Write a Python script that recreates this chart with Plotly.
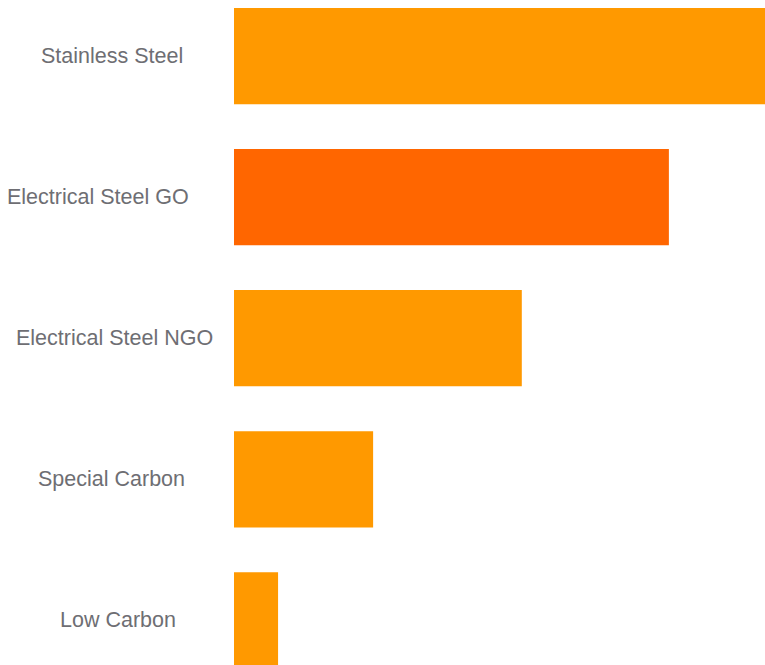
import plotly.graph_objects as go

# Steel product categories and their relative volumes
categories = ["Stainless Steel", "Electrical Steel GO", "Electrical Steel NGO",
              "Special Carbon", "Low Carbon"]
values = [100, 81.9, 54.2, 26.2, 8.3]
highlight = "Electrical Steel GO"

base_color = "#FF9900"
highlight_color = "#FF6600"
colors = [highlight_color if c == highlight else base_color for c in categories]

# figure geometry (pixels)
FIG_W, FIG_H = 765, 665
PLOT_LEFT = 234
PLOT_W = FIG_W - PLOT_LEFT

# horizontal centre of each label (pixels from the left edge of the figure)
label_centers = [112, 98, 114, 111, 118]

fig = go.Figure(
    go.Bar(
        x=values,
        y=categories,
        orientation="h",
        marker=dict(color=colors, line=dict(width=0)),
        hoverinfo="x+y",
    )
)

annotations = []
for cat, cx in zip(categories, label_centers):
    annotations.append(dict(
        x=(cx - PLOT_LEFT) / PLOT_W, xref="paper", y=cat, yref="y",
        text=cat, showarrow=False, xanchor="center", yanchor="middle",
        font=dict(family="Liberation Sans, Arial, sans-serif", size=21.5, color="#6E6E73"),
    ))

fig.update_layout(
    width=FIG_W, height=FIG_H,
    margin=dict(l=PLOT_LEFT, r=0, t=0, b=0),
    paper_bgcolor="white", plot_bgcolor="white",
    bargap=0.318,
    showlegend=False,
    xaxis=dict(range=[0, max(values)], visible=False, fixedrange=True),
    yaxis=dict(
        categoryorder="array", categoryarray=categories,
        range=[4.316, -0.397], showticklabels=False, showgrid=False,
        zeroline=False, fixedrange=True,
    ),
    annotations=annotations,
)

fig.write_html("out.html")
